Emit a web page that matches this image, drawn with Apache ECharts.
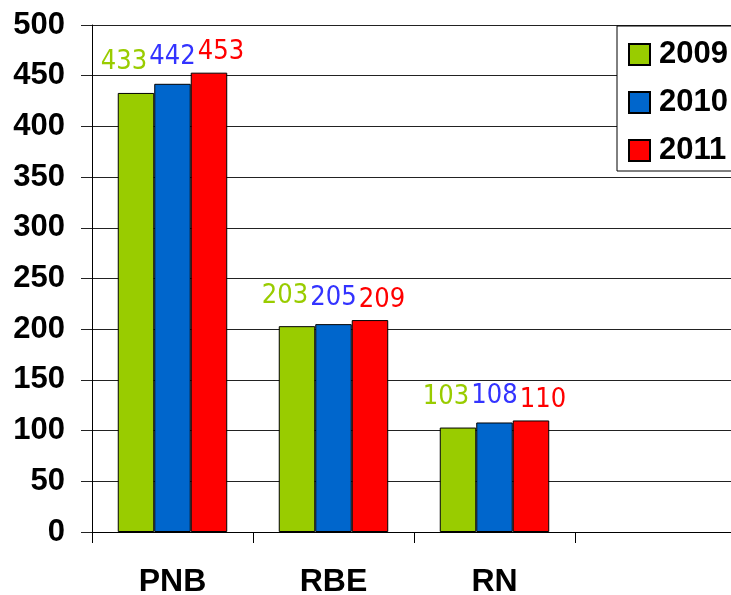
<!DOCTYPE html>
<html><head><meta charset="utf-8">
<script src="https://cdn.jsdelivr.net/npm/echarts@6/dist/echarts.min.js"></script>
<style>html,body{margin:0;padding:0;background:#fff}#c{width:731px;height:595px}</style>
</head><body><div id="c"></div>
<script>
// ---- data ----
const categories = ['PNB', 'RBE', 'RN', ''];
const seriesNames = ['2009', '2010', '2011'];
const values2009 = [433, 203, 103];
const values2010 = [442, 205, 108];
const values2011 = [453, 209, 110];
const yMin = 0, yMax = 500, yInterval = 50;

// ---- styles ----
const colors = ['#99CC00', '#0066CC', '#FF0000'];
const labelColors = ['#99CC00', '#3333FF', '#FF0000'];
const labelOffsets = [[-12, 0], [0, 0], [12, 0]];
const labelDistances = [17, 13, 7];
const boldFont = "'Liberation Sans', Arial, sans-serif";
const narrowFont = "'DejaVu Sans Condensed', 'Roboto Condensed', sans-serif";

const allValues = [values2009, values2010, values2011];

const chart = echarts.init(document.getElementById('c'), null, {renderer: 'canvas'});
chart.setOption({
  animation: false,
  backgroundColor: '#fff',
  grid: {left: 92, top: 25, bottom: 63, width: 644, containLabel: false, outerBoundsMode: 'none'},
  legend: {
    orient: 'vertical', left: 617, top: 26,
    data: seriesNames,
    icon: 'rect', itemWidth: 21, itemHeight: 21, itemGap: 17,
    padding: [13, 20, 5, 11],
    borderColor: '#000', borderWidth: 1, borderRadius: 0,
    backgroundColor: '#fff',
    textStyle: {fontSize: 31, fontWeight: 'bold', color: '#000', fontFamily: boldFont, lineHeight: 31, padding: [0, 0, 0, 4]}
  },
  xAxis: {
    type: 'category', data: categories, boundaryGap: true,
    axisLine: {lineStyle: {color: '#000', width: 1}},
    axisTick: {show: true, length: 11, alignWithLabel: false, lineStyle: {color: '#000'}},
    axisLabel: {fontSize: 32, fontWeight: 'bold', color: '#000', fontFamily: boldFont, margin: 34, interval: 0},
    splitLine: {show: false}
  },
  yAxis: {
    type: 'value', min: yMin, max: yMax, interval: yInterval,
    axisLine: {show: true, lineStyle: {color: '#000', width: 1}},
    axisTick: {show: true, length: 11, lineStyle: {color: '#222'}},
    axisLabel: {fontSize: 31, fontWeight: 'bold', color: '#000', fontFamily: boldFont, margin: 27, padding: [5, 0, 0, 0]},
    splitLine: {show: true, lineStyle: {color: '#222', width: 1}}
  },
  series: seriesNames.map((name, i) => ({
    name: name, type: 'bar',
    data: allValues[i],
    barGap: '0%', barCategoryGap: '32%',
    itemStyle: {color: colors[i], borderColor: '#000', borderWidth: 1},
    label: {
      show: true, position: 'top', distance: labelDistances[i], offset: labelOffsets[i],
      color: labelColors[i], fontSize: 27, fontFamily: narrowFont
    }
  }))
});
</script>
</body></html>
